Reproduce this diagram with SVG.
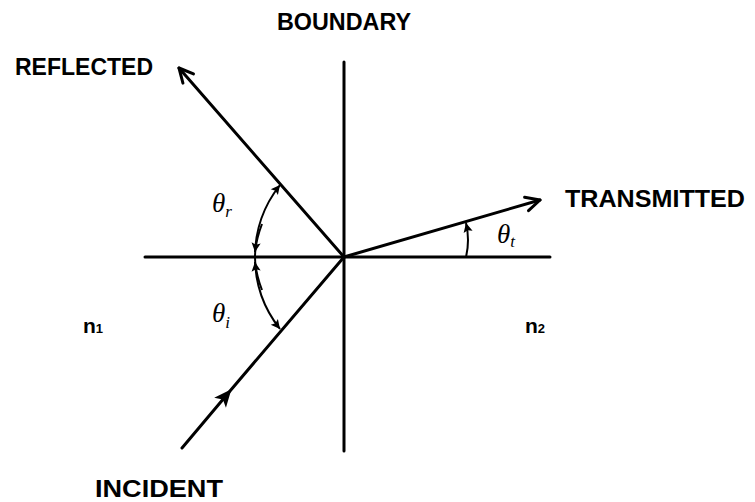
<svg xmlns="http://www.w3.org/2000/svg" width="755" height="502" viewBox="0 0 755 502">
<style>
.ln{stroke:#000;stroke-width:3;fill:none;stroke-linecap:round}
.arc{stroke:#000;stroke-width:2;fill:none}
.lbl{font-family:"Liberation Sans",Arial,sans-serif;font-weight:bold;font-size:23px;fill:#000}
.sym{font-family:"Liberation Serif","Times New Roman",serif;font-style:italic;font-size:27px;fill:#000}
.n{font-family:"Liberation Sans",Arial,sans-serif;font-weight:bold;font-size:21px;fill:#000}
</style>
<defs>
<marker id="open" viewBox="0 0 20 20" refX="18" refY="10" markerWidth="20" markerHeight="20" markerUnits="userSpaceOnUse" orient="auto">
<path d="M4,3 L18,10 L4,17" fill="none" stroke="#000" stroke-width="3" stroke-linecap="round" stroke-linejoin="round"/>
</marker>
<marker id="fill" viewBox="0 0 20 20" refX="16" refY="10" markerWidth="22" markerHeight="22" markerUnits="userSpaceOnUse" orient="auto">
<path d="M2,3 L18,10 L2,17 L6,10 Z" fill="#000"/>
</marker>
<marker id="small" viewBox="0 0 12 12" refX="11" refY="6" markerWidth="11" markerHeight="11" markerUnits="userSpaceOnUse" orient="auto">
<path d="M1,1 L11,6 L1,11 L3,6 Z" fill="#000"/>
</marker>
</defs>
<g id="boundary"><line class="ln" x1="344" y1="62" x2="344" y2="451"/></g>
<g id="normal"><line class="ln" x1="145" y1="257" x2="550" y2="257" stroke-width="2.5"/></g>
<g id="connectors">
<path id="reflected-ray" class="ln" d="M344,257 L179,68" marker-end="url(#open)"/>
<path id="incident-ray" class="ln" d="M182,448 L230,391 L344,257" marker-mid="url(#fill)"/>
<path id="transmitted-ray" class="ln" d="M344,257 L540,200" marker-end="url(#open)"/>
<path id="arc-r" class="arc" d="M255,257 A116,116 0 0,1 280,185" marker-end="url(#small)"/>
<path id="arc-r2" class="arc" d="M262,224 A116,116 0 0,0 255,252" marker-end="url(#small)"/>
<path id="arc-i" class="arc" d="M255,257 A116,116 0 0,0 280,329" marker-end="url(#small)"/>
<path id="arc-i2" class="arc" d="M262,290 A116,116 0 0,1 255,262" marker-end="url(#small)"/>
<path id="arc-t" class="arc" d="M466,257 Q470,240 466,223" marker-end="url(#small)"/>
</g>
<g id="label-boundary"><text class="lbl" x="277" y="30" textLength="134" lengthAdjust="spacingAndGlyphs">BOUNDARY</text></g>
<g id="label-reflected"><text class="lbl" x="15" y="75" textLength="138" lengthAdjust="spacingAndGlyphs">REFLECTED</text></g>
<g id="label-transmitted"><text class="lbl" x="565" y="207" textLength="180" lengthAdjust="spacingAndGlyphs">TRANSMITTED</text></g>
<g id="label-incident"><text class="lbl" x="95" y="497" textLength="128" lengthAdjust="spacingAndGlyphs">INCIDENT</text></g>
<g id="theta-r"><text class="sym" x="212" y="212">θ<tspan font-size="17" dy="5">r</tspan></text></g>
<g id="theta-i"><text class="sym" x="212" y="322">θ<tspan font-size="17" dy="6">i</tspan></text></g>
<g id="theta-t"><text class="sym" x="497" y="243">θ<tspan font-size="17" dy="4">t</tspan></text></g>
<g id="n1"><text class="n" x="83" y="333">n<tspan font-size="13">1</tspan></text></g>
<g id="n2"><text class="n" x="525" y="333">n<tspan font-size="13">2</tspan></text></g>
</svg>
